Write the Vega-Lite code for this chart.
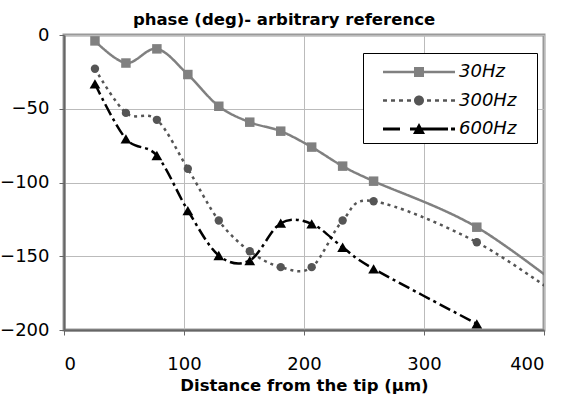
{
  "$schema": "https://vega.github.io/schema/vega-lite/v6.json",
  "width": 480,
  "height": 295,
  "autosize": "none",
  "padding": {"left": 64, "top": 35, "right": 19, "bottom": 67},
  "background": "white",
  "config": {
    "font": "DejaVu Sans",
    "view": {"stroke": "#999999", "strokeWidth": 3},
    "axis": {
      "labelFont": "DejaVu Sans",
      "labelFontSize": 18,
      "labelColor": "black",
      "domainColor": "#666666",
      "domainWidth": 2,
      "tickColor": "#666666",
      "tickSize": 5,
      "gridColor": "#bbbbbb",
      "gridWidth": 1,
      "gridOpacity": 1
    }
  },
  "title": {
    "text": "phase (deg)- arbitrary reference",
    "font": "DejaVu Sans",
    "fontSize": 16.5,
    "fontWeight": "bold",
    "color": "black",
    "anchor": "middle",
    "dx": -20,
    "offset": -2
  },
  "data": {
    "values": [
      {"series": "30Hz", "distance": 25.8, "phase": -4},
      {"series": "30Hz", "distance": 51.6, "phase": -19},
      {"series": "30Hz", "distance": 77.4, "phase": -9.4},
      {"series": "30Hz", "distance": 103.2, "phase": -26.8},
      {"series": "30Hz", "distance": 129, "phase": -48.3},
      {"series": "30Hz", "distance": 154.8, "phase": -59.1},
      {"series": "30Hz", "distance": 180.6, "phase": -65.2},
      {"series": "30Hz", "distance": 206.4, "phase": -76},
      {"series": "30Hz", "distance": 232.2, "phase": -88.9},
      {"series": "30Hz", "distance": 258, "phase": -99.1},
      {"series": "30Hz", "distance": 344, "phase": -130.3},
      {"series": "30Hz", "distance": 430, "phase": -181},
      {"series": "300Hz", "distance": 25.8, "phase": -22.9},
      {"series": "300Hz", "distance": 51.6, "phase": -52.8},
      {"series": "300Hz", "distance": 77.4, "phase": -57.5},
      {"series": "300Hz", "distance": 103.2, "phase": -90.7},
      {"series": "300Hz", "distance": 129, "phase": -125.8},
      {"series": "300Hz", "distance": 154.8, "phase": -146.6},
      {"series": "300Hz", "distance": 180.6, "phase": -157.4},
      {"series": "300Hz", "distance": 206.4, "phase": -157.4},
      {"series": "300Hz", "distance": 232.2, "phase": -125.8},
      {"series": "300Hz", "distance": 258, "phase": -112.7},
      {"series": "300Hz", "distance": 344, "phase": -140.5},
      {"series": "300Hz", "distance": 430, "phase": -187},
      {"series": "600Hz", "distance": 25.8, "phase": -33.1},
      {"series": "600Hz", "distance": 51.6, "phase": -70.4},
      {"series": "600Hz", "distance": 77.4, "phase": -81.7},
      {"series": "600Hz", "distance": 103.2, "phase": -119},
      {"series": "600Hz", "distance": 129, "phase": -149.5},
      {"series": "600Hz", "distance": 154.8, "phase": -152.9},
      {"series": "600Hz", "distance": 180.6, "phase": -127.6},
      {"series": "600Hz", "distance": 206.4, "phase": -128},
      {"series": "600Hz", "distance": 232.2, "phase": -143.9},
      {"series": "600Hz", "distance": 258, "phase": -158.5},
      {"series": "600Hz", "distance": 344, "phase": -195.8}
    ]
  },
  "encoding": {
    "x": {
      "field": "distance",
      "type": "quantitative",
      "scale": {"domain": [0, 400], "nice": false, "zero": false},
      "axis": {
        "values": [0, 100, 200, 300, 400],
        "labelPadding": 20,
        "title": "Distance from the tip (µm)",
        "titleFont": "DejaVu Sans",
        "titleFontSize": 16.5,
        "titleFontWeight": "bold",
        "titleColor": "black",
        "titlePadding": 4
      }
    },
    "y": {
      "field": "phase",
      "type": "quantitative",
      "scale": {"domain": [-200, 0], "nice": false},
      "axis": {
        "values": [0, -50, -100, -150, -200],
        "labelPadding": 10,
        "title": null
      }
    }
  },
  "layer": [
    {
      "mark": {"type": "line", "interpolate": "cardinal", "clip": true, "strokeWidth": 2.5},
      "encoding": {
        "color": {
          "field": "series",
          "type": "nominal",
          "scale": {"domain": ["30Hz", "300Hz", "600Hz"], "range": ["#808080", "#555555", "#000000"]},
          "legend": {
            "orient": "none",
            "legendX": 299,
            "legendY": 18,
            "title": null,
            "fillColor": "white",
            "strokeColor": "black",
            "padding": 5,
            "rowPadding": 5.5,
            "labelFont": "DejaVu Sans",
            "labelFontSize": 18,
            "labelFontStyle": "italic",
            "labelColor": "black",
            "symbolType": "square",
            "symbolSize": 784,
            "symbolOffset": 37,
            "labelOffset": 26,
            "encode": {
              "symbols": {
                "update": {
                  "shape": {"signal": "datum.value === '30Hz' ? 'M-2.571,-0.089H2.571V0.089H-2.571Z M-0.357,-0.357H0.357V0.357H-0.357Z M8.07,0L8.07,0.001Z' : datum.value === '300Hz' ? 'M-2.571,-0.089H-2.286V0.089H-2.571Z M-2,-0.089H-1.714V0.089H-2Z M-1.429,-0.089H-1.143V0.089H-1.429Z M-0.857,-0.089H-0.571V0.089H-0.857Z M0.571,-0.089H0.857V0.089H0.571Z M1.143,-0.089H1.429V0.089H1.143Z M1.714,-0.089H2V0.089H1.714Z M2.286,-0.089H2.571V0.089H2.286Z M-0.357,0A0.357,0.357 0 1,0 0.357,0A0.357,0.357 0 1,0 -0.357,0Z' : 'M-2.571,-0.107H-1.357V0.107H-2.571Z M-0.643,-0.107H2.071V0.107H-0.643Z M2.286,-0.107H2.571V0.107H2.286Z M0,-0.429L0.429,0.357L-0.429,0.357Z'"},
                  "fill": {"signal": "datum.value === '30Hz' ? '#808080' : datum.value === '300Hz' ? '#555555' : '#000000'"},
                  "fillOpacity": {"value": 1},
                  "stroke": {"value": "transparent"},
                  "strokeWidth": {"value": 0},
                  "opacity": {"value": 1}
                }
              }
            }
          }
        },
        "strokeDash": {
          "field": "series",
          "type": "nominal",
          "scale": {"domain": ["30Hz", "300Hz", "600Hz"], "range": [[1, 0], [3, 4], [12, 4, 3, 4]]},
          "legend": null
        }
      }
    },
    {
      "transform": [{"filter": "datum.series === '30Hz'"}],
      "mark": {"type": "point", "filled": true, "clip": true, "opacity": 1, "shape": "square", "size": 90, "color": "#808080"}
    },
    {
      "transform": [{"filter": "datum.series === '300Hz'"}],
      "mark": {"type": "point", "filled": true, "clip": true, "opacity": 1, "shape": "circle", "size": 70, "color": "#555555"}
    },
    {
      "transform": [{"filter": "datum.series === '600Hz'"}],
      "mark": {"type": "point", "filled": true, "clip": true, "opacity": 1, "shape": "triangle-up", "size": 115, "color": "#000000"}
    }
  ]
}
